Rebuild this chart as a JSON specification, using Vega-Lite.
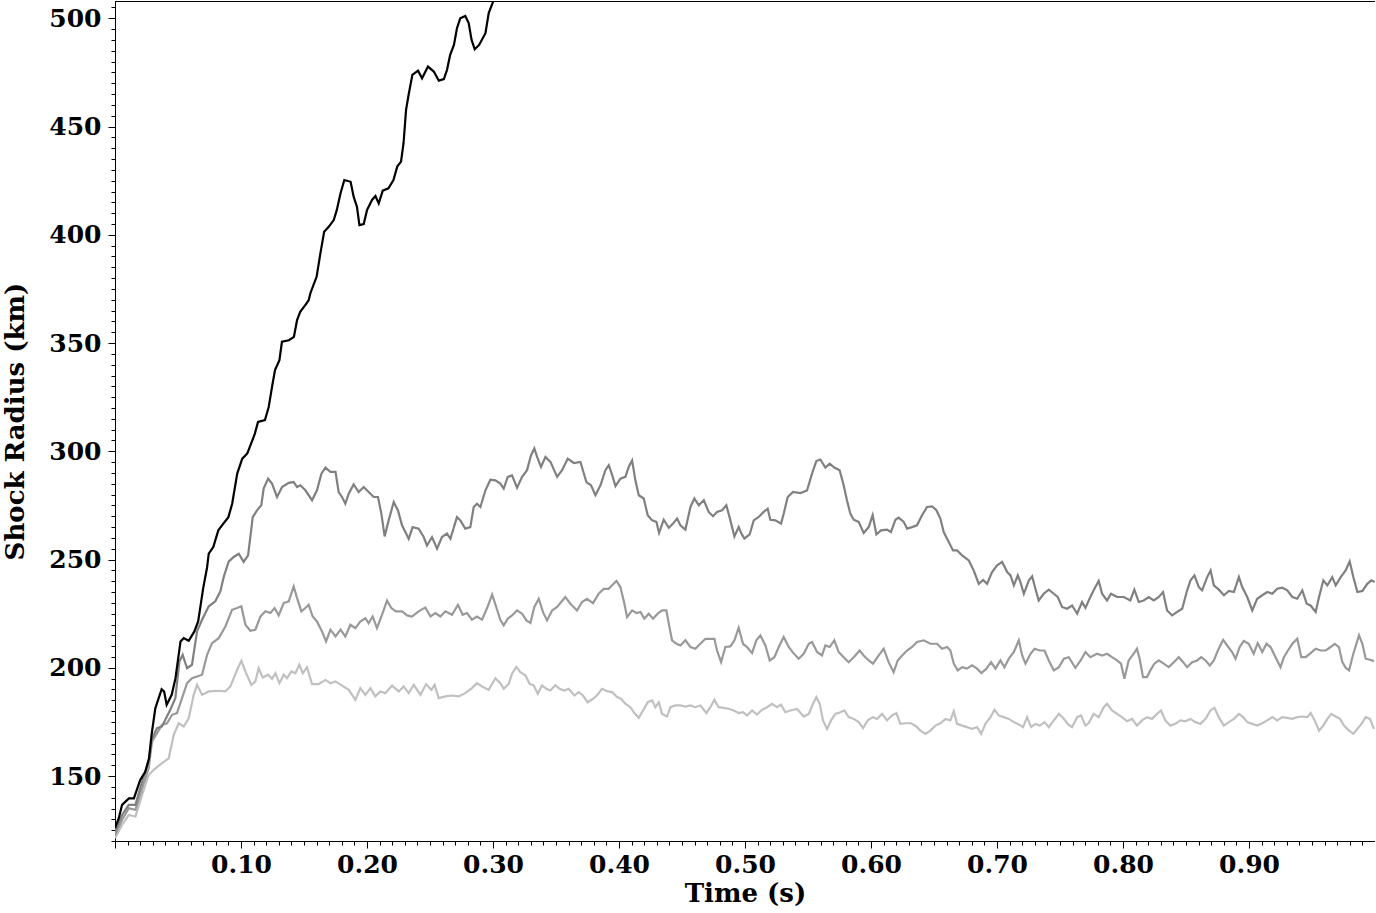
{
  "$schema": "https://vega.github.io/schema/vega-lite/v6.json",
  "width": 1260,
  "height": 840,
  "autosize": {"type": "none"},
  "padding": {"left": 115, "top": 1, "right": 0, "bottom": 72},
  "background": "white",
  "config": {
    "view": {"stroke": "black", "strokeWidth": 1},
    "axis": {
      "domainColor": "black",
      "domainWidth": 1,
      "tickColor": "black",
      "tickWidth": 1,
      "grid": false,
      "labelFont": "DejaVu Serif",
      "labelFontWeight": "bold",
      "labelFontSize": 25,
      "labelColor": "black",
      "titleFont": "DejaVu Serif",
      "titleFontWeight": "bold",
      "titleFontSize": 26,
      "titleColor": "black",
      "labelOverlap": false,
      "labelFlush": false
    }
  },
  "datasets": {
    "A": [
      {"t":0,"r":126},{"t":0.003,"r":130.5},{"t":0.0056,"r":136.7},{"t":0.011,"r":139.7},{"t":0.015,"r":139.7},{"t":0.02,"r":148.2},{"t":0.024,"r":152},{"t":0.027,"r":158.2},{"t":0.029,"r":169},{"t":0.032,"r":181.3},{"t":0.037,"r":190.1},{"t":0.039,"r":189},{"t":0.041,"r":182.9},{"t":0.045,"r":187.5},{"t":0.048,"r":195.2},{"t":0.052,"r":212.2},{"t":0.0545,"r":213.7},{"t":0.0585,"r":212.5},{"t":0.063,"r":216.8},{"t":0.066,"r":221.4},{"t":0.07,"r":236.8},{"t":0.073,"r":246.1},{"t":0.0744,"r":252.7},{"t":0.078,"r":255.8},{"t":0.082,"r":263.5},{"t":0.086,"r":266.6},{"t":0.09,"r":269.6},{"t":0.093,"r":275.8},{"t":0.097,"r":289.7},{"t":0.101,"r":296.6},{"t":0.105,"r":299},{"t":0.109,"r":305.1},{"t":0.111,"r":308.2},{"t":0.1135,"r":313.6},{"t":0.119,"r":314.4},{"t":0.122,"r":320.5},{"t":0.1246,"r":329.7},{"t":0.127,"r":337.5},{"t":0.1305,"r":342.1},{"t":0.1325,"r":350.6},{"t":0.138,"r":351.3},{"t":0.142,"r":352.9},{"t":0.1445,"r":360.6},{"t":0.147,"r":364.4},{"t":0.151,"r":367.5},{"t":0.1537,"r":369.8},{"t":0.155,"r":372.9},{"t":0.158,"r":377.6},{"t":0.16,"r":380.6},{"t":0.163,"r":391.4},{"t":0.166,"r":401.4},{"t":0.1696,"r":403.7},{"t":0.1736,"r":406.8},{"t":0.176,"r":411.4},{"t":0.179,"r":419.2},{"t":0.182,"r":425.3},{"t":0.187,"r":424.5},{"t":0.1894,"r":417.6},{"t":0.192,"r":413},{"t":0.194,"r":404.5},{"t":0.1974,"r":405},{"t":0.2,"r":411.4},{"t":0.204,"r":416.1},{"t":0.2067,"r":417.9},{"t":0.2093,"r":414.5},{"t":0.2125,"r":420.4},{"t":0.217,"r":421.5},{"t":0.221,"r":425.3},{"t":0.224,"r":431.5},{"t":0.227,"r":433.8},{"t":0.229,"r":442.3},{"t":0.231,"r":457.7},{"t":0.233,"r":464.6},{"t":0.236,"r":473.9},{"t":0.2405,"r":475.8},{"t":0.2437,"r":472.3},{"t":0.2484,"r":477.7},{"t":0.253,"r":475.4},{"t":0.257,"r":471.2},{"t":0.261,"r":471.9},{"t":0.2635,"r":476.2},{"t":0.266,"r":483.1},{"t":0.269,"r":487.7},{"t":0.2714,"r":495.4},{"t":0.274,"r":500},{"t":0.278,"r":501.1},{"t":0.2807,"r":497.8},{"t":0.283,"r":490},{"t":0.2855,"r":485.7},{"t":0.289,"r":487.7},{"t":0.294,"r":493.1},{"t":0.2966,"r":502.4},{"t":0.3006,"r":508.5},{"t":0.305,"r":518}
    ],
    "B": [
      {"t":0,"r":124.3},{"t":0.0056,"r":132},{"t":0.0109,"r":136.7},{"t":0.0162,"r":136.7},{"t":0.0215,"r":147.5},{"t":0.0267,"r":156.7},{"t":0.0294,"r":167.5},{"t":0.0334,"r":172.1},{"t":0.0373,"r":172.9},{"t":0.0405,"r":176.7},{"t":0.0439,"r":180.6},{"t":0.0479,"r":186},{"t":0.0511,"r":202.9},{"t":0.0537,"r":206},{"t":0.0572,"r":199.8},{"t":0.0611,"r":201.4},{"t":0.0651,"r":216.8},{"t":0.0691,"r":222.2},{"t":0.0744,"r":228.4},{"t":0.0796,"r":230.7},{"t":0.0836,"r":235.3},{"t":0.0863,"r":242},{"t":0.0902,"r":249},{"t":0.0942,"r":251.2},{"t":0.0982,"r":252.7},{"t":0.1021,"r":248.9},{"t":0.1056,"r":251.9},{"t":0.1074,"r":260.4},{"t":0.1093,"r":269.6},{"t":0.1127,"r":272.7},{"t":0.1161,"r":275.1},{"t":0.118,"r":282.8},{"t":0.1215,"r":287.4},{"t":0.1246,"r":285.1},{"t":0.1286,"r":278.9},{"t":0.1326,"r":283.5},{"t":0.1379,"r":285.4},{"t":0.1418,"r":285.8},{"t":0.1445,"r":283.5},{"t":0.1471,"r":284.3},{"t":0.1511,"r":282},{"t":0.1564,"r":277.4},{"t":0.1603,"r":282},{"t":0.1638,"r":289.7},{"t":0.167,"r":292.5},{"t":0.171,"r":290.5},{"t":0.175,"r":290.5},{"t":0.1775,"r":281.2},{"t":0.1802,"r":278.9},{"t":0.1828,"r":275.8},{"t":0.1855,"r":280.4},{"t":0.1894,"r":284.7},{"t":0.1934,"r":281.2},{"t":0.1974,"r":283.5},{"t":0.2013,"r":281.2},{"t":0.2053,"r":278.9},{"t":0.2087,"r":278.9},{"t":0.2114,"r":271.2},{"t":0.214,"r":260.7},{"t":0.2172,"r":268.1},{"t":0.2212,"r":276.6},{"t":0.2246,"r":272.7},{"t":0.2278,"r":265.8},{"t":0.2331,"r":259.6},{"t":0.2362,"r":265},{"t":0.241,"r":264.3},{"t":0.245,"r":260.4},{"t":0.2476,"r":256.5},{"t":0.2516,"r":260.4},{"t":0.2556,"r":255},{"t":0.2595,"r":260.4},{"t":0.2635,"r":262},{"t":0.2662,"r":259.6},{"t":0.2714,"r":269.6},{"t":0.2741,"r":268.1},{"t":0.278,"r":264.3},{"t":0.282,"r":265},{"t":0.2847,"r":274.3},{"t":0.2873,"r":275.8},{"t":0.29,"r":274.3},{"t":0.294,"r":282},{"t":0.2979,"r":286.9},{"t":0.3019,"r":286.6},{"t":0.3058,"r":285.1},{"t":0.3085,"r":282.8},{"t":0.3117,"r":288.2},{"t":0.3151,"r":288.9},{"t":0.3191,"r":283.2},{"t":0.3231,"r":288.2},{"t":0.327,"r":291.3},{"t":0.3302,"r":298.2},{"t":0.3328,"r":301.3},{"t":0.335,"r":297.4},{"t":0.3381,"r":292.8},{"t":0.3416,"r":297.4},{"t":0.3456,"r":295.1},{"t":0.3509,"r":288.2},{"t":0.3548,"r":291.3},{"t":0.3593,"r":296.6},{"t":0.3641,"r":294.6},{"t":0.3694,"r":295.1},{"t":0.3741,"r":285.8},{"t":0.3778,"r":284.3},{"t":0.3813,"r":279.7},{"t":0.3853,"r":284.3},{"t":0.3892,"r":291.3},{"t":0.3919,"r":293.6},{"t":0.3946,"r":289},{"t":0.3972,"r":283.9},{"t":0.4011,"r":287.4},{"t":0.4051,"r":288.2},{"t":0.4077,"r":292.8},{"t":0.4104,"r":295.8},{"t":0.413,"r":286.6},{"t":0.4157,"r":279.7},{"t":0.4196,"r":278.2},{"t":0.4228,"r":270.5},{"t":0.4263,"r":268.1},{"t":0.4297,"r":267.4},{"t":0.4318,"r":262.3},{"t":0.4355,"r":268.4},{"t":0.4395,"r":264.7},{"t":0.4429,"r":266.6},{"t":0.4461,"r":268.9},{"t":0.4487,"r":265.8},{"t":0.4527,"r":263.8},{"t":0.4567,"r":274.3},{"t":0.4598,"r":278.2},{"t":0.4633,"r":275.1},{"t":0.4673,"r":277.4},{"t":0.4712,"r":272},{"t":0.4746,"r":270},{"t":0.4778,"r":272},{"t":0.4818,"r":272.8},{"t":0.4852,"r":275.1},{"t":0.4884,"r":268.1},{"t":0.4916,"r":260.7},{"t":0.495,"r":265},{"t":0.4969,"r":262.3},{"t":0.4995,"r":259.7},{"t":0.5037,"r":261.6},{"t":0.5069,"r":268.1},{"t":0.5109,"r":269.7},{"t":0.5148,"r":272},{"t":0.518,"r":273.5},{"t":0.5201,"r":268.4},{"t":0.5241,"r":268.1},{"t":0.5286,"r":266.6},{"t":0.5307,"r":271.2},{"t":0.5339,"r":278.9},{"t":0.5381,"r":281.2},{"t":0.544,"r":280.7},{"t":0.5492,"r":281.9},{"t":0.5532,"r":289.7},{"t":0.5566,"r":295.5},{"t":0.5598,"r":296.2},{"t":0.5638,"r":292.5},{"t":0.5672,"r":294.3},{"t":0.5709,"r":292.5},{"t":0.5751,"r":291.3},{"t":0.5783,"r":284.3},{"t":0.5809,"r":277.4},{"t":0.5836,"r":271.2},{"t":0.5863,"r":268.4},{"t":0.5902,"r":267.4},{"t":0.5942,"r":262.3},{"t":0.5982,"r":265},{"t":0.6013,"r":270.5},{"t":0.6043,"r":261.6},{"t":0.6079,"r":263.5},{"t":0.6127,"r":263.8},{"t":0.6158,"r":262.7},{"t":0.6194,"r":268.4},{"t":0.622,"r":269.4},{"t":0.626,"r":267.4},{"t":0.6286,"r":264.3},{"t":0.6326,"r":265},{"t":0.6365,"r":265.8},{"t":0.6405,"r":270.5},{"t":0.6445,"r":274.3},{"t":0.6485,"r":274.6},{"t":0.6519,"r":272.8},{"t":0.6551,"r":268.9},{"t":0.6577,"r":262.7},{"t":0.6617,"r":258.1},{"t":0.6651,"r":254.2},{"t":0.6683,"r":254.2},{"t":0.6723,"r":251.9},{"t":0.6757,"r":250.4},{"t":0.6776,"r":249.6},{"t":0.6815,"r":245},{"t":0.6855,"r":238.8},{"t":0.689,"r":240.6},{"t":0.6921,"r":238.8},{"t":0.6961,"r":244.2},{"t":0.7001,"r":247.3},{"t":0.7041,"r":248.9},{"t":0.7081,"r":244.2},{"t":0.7107,"r":242.7},{"t":0.7134,"r":238.1},{"t":0.7165,"r":242.7},{"t":0.7186,"r":239.6},{"t":0.7213,"r":234.2},{"t":0.7253,"r":240.4},{"t":0.7279,"r":242.2},{"t":0.7305,"r":236.5},{"t":0.7331,"r":231.1},{"t":0.7371,"r":234.2},{"t":0.7411,"r":236.1},{"t":0.7451,"r":234.2},{"t":0.7482,"r":232.7},{"t":0.7516,"r":228.1},{"t":0.7556,"r":227.3},{"t":0.7596,"r":228.8},{"t":0.7636,"r":225},{"t":0.7675,"r":230.4},{"t":0.7702,"r":227.7},{"t":0.7728,"r":231.1},{"t":0.7767,"r":235.8},{"t":0.7807,"r":240.1},{"t":0.7834,"r":234.2},{"t":0.7873,"r":231.1},{"t":0.7905,"r":234.2},{"t":0.7953,"r":232.7},{"t":0.8006,"r":232.7},{"t":0.8058,"r":231.1},{"t":0.809,"r":236.1},{"t":0.8125,"r":230.4},{"t":0.8164,"r":231.1},{"t":0.8204,"r":232.7},{"t":0.8244,"r":231.1},{"t":0.8284,"r":232.7},{"t":0.8318,"r":235},{"t":0.835,"r":226.5},{"t":0.839,"r":224.2},{"t":0.843,"r":225.8},{"t":0.847,"r":227.3},{"t":0.8509,"r":235.8},{"t":0.8536,"r":240.4},{"t":0.8567,"r":242.7},{"t":0.8602,"r":237.3},{"t":0.8628,"r":235.8},{"t":0.8668,"r":241.9},{"t":0.8695,"r":245},{"t":0.8721,"r":238.1},{"t":0.8761,"r":236.1},{"t":0.8801,"r":233.5},{"t":0.884,"r":235.5},{"t":0.888,"r":235},{"t":0.892,"r":241.9},{"t":0.8946,"r":237.3},{"t":0.8986,"r":232.7},{"t":0.9026,"r":226.5},{"t":0.9065,"r":231.9},{"t":0.9105,"r":233.5},{"t":0.9145,"r":235},{"t":0.9185,"r":234.2},{"t":0.9224,"r":236.5},{"t":0.9264,"r":237},{"t":0.9304,"r":235.8},{"t":0.9344,"r":232.7},{"t":0.9383,"r":231.9},{"t":0.9423,"r":235.8},{"t":0.9458,"r":229.6},{"t":0.9489,"r":228.8},{"t":0.9529,"r":225.8},{"t":0.9556,"r":232.7},{"t":0.959,"r":240.4},{"t":0.9622,"r":238.1},{"t":0.9661,"r":241.9},{"t":0.9688,"r":238.1},{"t":0.9728,"r":241.9},{"t":0.9767,"r":245},{"t":0.9799,"r":249.1},{"t":0.9828,"r":241.9},{"t":0.986,"r":235},{"t":0.99,"r":235.5},{"t":0.9939,"r":238.8},{"t":0.9971,"r":240.4},{"t":0.9998,"r":239.6}
    ],
    "C": [
      {"t":0,"r":122.8},{"t":0.0056,"r":129.7},{"t":0.0109,"r":135.1},{"t":0.0162,"r":134.4},{"t":0.0215,"r":144.4},{"t":0.0267,"r":153.6},{"t":0.0294,"r":166},{"t":0.0334,"r":169.8},{"t":0.0373,"r":173.7},{"t":0.0413,"r":174.4},{"t":0.0453,"r":178.3},{"t":0.0492,"r":179.1},{"t":0.0532,"r":186},{"t":0.0572,"r":192.9},{"t":0.0611,"r":195.2},{"t":0.0651,"r":196},{"t":0.0691,"r":196.8},{"t":0.0731,"r":206},{"t":0.077,"r":211.4},{"t":0.0823,"r":213.7},{"t":0.0876,"r":219.1},{"t":0.0929,"r":226.8},{"t":0.0969,"r":227.6},{"t":0.1003,"r":228.4},{"t":0.1035,"r":219.9},{"t":0.1074,"r":217.1},{"t":0.1114,"r":217.6},{"t":0.1154,"r":223.7},{"t":0.1193,"r":226.1},{"t":0.1233,"r":225.3},{"t":0.1267,"r":227.6},{"t":0.1299,"r":224.2},{"t":0.1339,"r":229.9},{"t":0.1379,"r":230.7},{"t":0.1418,"r":237.6},{"t":0.1445,"r":232.2},{"t":0.1479,"r":226.1},{"t":0.1511,"r":227.6},{"t":0.1537,"r":229.1},{"t":0.1569,"r":223.7},{"t":0.1603,"r":221.4},{"t":0.1643,"r":216.8},{"t":0.1675,"r":212.2},{"t":0.171,"r":217.6},{"t":0.175,"r":214.5},{"t":0.179,"r":217.6},{"t":0.1828,"r":214.5},{"t":0.1868,"r":219.9},{"t":0.1908,"r":218.3},{"t":0.1947,"r":221.4},{"t":0.1987,"r":222.9},{"t":0.2013,"r":220.6},{"t":0.2045,"r":223.7},{"t":0.2079,"r":218.3},{"t":0.2119,"r":224.5},{"t":0.2159,"r":231},{"t":0.2193,"r":227.6},{"t":0.223,"r":226.1},{"t":0.2278,"r":226.1},{"t":0.2318,"r":224.2},{"t":0.2357,"r":223.7},{"t":0.241,"r":226.1},{"t":0.2463,"r":227.9},{"t":0.2503,"r":223.7},{"t":0.2543,"r":225.3},{"t":0.2582,"r":223.7},{"t":0.2622,"r":226.1},{"t":0.2675,"r":224.5},{"t":0.2722,"r":229.1},{"t":0.2759,"r":224.5},{"t":0.2794,"r":225.3},{"t":0.2833,"r":222.2},{"t":0.2873,"r":223.7},{"t":0.2913,"r":222.2},{"t":0.2953,"r":227.6},{"t":0.2993,"r":233.8},{"t":0.3024,"r":228.4},{"t":0.3058,"r":222.2},{"t":0.3085,"r":219.6},{"t":0.3117,"r":222.7},{"t":0.3151,"r":224.2},{"t":0.3191,"r":226.5},{"t":0.3231,"r":225},{"t":0.3265,"r":221.9},{"t":0.3297,"r":220.7},{"t":0.3328,"r":228.1},{"t":0.3363,"r":231.9},{"t":0.3397,"r":225.7},{"t":0.3429,"r":221.9},{"t":0.3469,"r":226.5},{"t":0.3509,"r":228.1},{"t":0.3541,"r":230.4},{"t":0.3574,"r":232.7},{"t":0.3614,"r":229.6},{"t":0.3667,"r":226.5},{"t":0.3706,"r":230.4},{"t":0.3746,"r":231.9},{"t":0.3794,"r":229.9},{"t":0.3839,"r":234.2},{"t":0.3879,"r":236.5},{"t":0.3918,"r":236.5},{"t":0.3945,"r":238.1},{"t":0.398,"r":240.1},{"t":0.4011,"r":237.3},{"t":0.4043,"r":229.6},{"t":0.4064,"r":223.4},{"t":0.4104,"r":226.5},{"t":0.4138,"r":225.3},{"t":0.417,"r":225.8},{"t":0.4201,"r":222.7},{"t":0.4236,"r":225},{"t":0.427,"r":222.7},{"t":0.4307,"r":225},{"t":0.4342,"r":226.5},{"t":0.4376,"r":226.5},{"t":0.4395,"r":220.4},{"t":0.4421,"r":212.7},{"t":0.4456,"r":211.1},{"t":0.4487,"r":210.3},{"t":0.4527,"r":212.7},{"t":0.4567,"r":209.6},{"t":0.4606,"r":208.8},{"t":0.4646,"r":211.1},{"t":0.4686,"r":213.4},{"t":0.4725,"r":213.4},{"t":0.4757,"r":213.4},{"t":0.4778,"r":208},{"t":0.481,"r":202.6},{"t":0.4844,"r":209.6},{"t":0.4884,"r":209.9},{"t":0.4916,"r":212.7},{"t":0.495,"r":218.5},{"t":0.4984,"r":211.1},{"t":0.5016,"r":209.6},{"t":0.5056,"r":206.8},{"t":0.509,"r":212.7},{"t":0.5122,"r":214.9},{"t":0.5162,"r":210.3},{"t":0.5196,"r":203.4},{"t":0.5233,"r":204.9},{"t":0.5268,"r":209.6},{"t":0.5307,"r":214.2},{"t":0.5347,"r":209.6},{"t":0.5381,"r":207},{"t":0.5426,"r":204.2},{"t":0.5466,"r":206.5},{"t":0.5506,"r":211.1},{"t":0.5532,"r":211.9},{"t":0.5572,"r":207.3},{"t":0.5611,"r":205.7},{"t":0.5638,"r":210.3},{"t":0.5672,"r":209.6},{"t":0.5709,"r":212.7},{"t":0.5743,"r":207.3},{"t":0.5783,"r":204.9},{"t":0.5823,"r":202.6},{"t":0.5863,"r":204.9},{"t":0.591,"r":208},{"t":0.5942,"r":205.7},{"t":0.5982,"r":203.4},{"t":0.6016,"r":201.9},{"t":0.6061,"r":205.7},{"t":0.6101,"r":208.8},{"t":0.614,"r":202.6},{"t":0.618,"r":198},{"t":0.6212,"r":203.4},{"t":0.6247,"r":205.7},{"t":0.6286,"r":208},{"t":0.6326,"r":209.6},{"t":0.6365,"r":211.9},{"t":0.6418,"r":212.7},{"t":0.6471,"r":211.1},{"t":0.6524,"r":211.1},{"t":0.6564,"r":208.8},{"t":0.6604,"r":209.6},{"t":0.663,"r":208},{"t":0.6657,"r":201.9},{"t":0.6688,"r":198.8},{"t":0.6723,"r":200.3},{"t":0.6762,"r":199.6},{"t":0.6802,"r":201.1},{"t":0.6842,"r":199.6},{"t":0.6876,"r":197.6},{"t":0.6916,"r":199.6},{"t":0.6953,"r":202.6},{"t":0.6988,"r":199.6},{"t":0.7027,"r":203.4},{"t":0.7059,"r":200.3},{"t":0.7094,"r":204.2},{"t":0.7134,"r":207.3},{"t":0.7173,"r":212.7},{"t":0.72,"r":205.7},{"t":0.7226,"r":201.9},{"t":0.7266,"r":206.5},{"t":0.7298,"r":208.8},{"t":0.734,"r":208},{"t":0.7377,"r":208},{"t":0.7411,"r":203.4},{"t":0.7451,"r":198.8},{"t":0.7491,"r":200.3},{"t":0.7531,"r":204.2},{"t":0.757,"r":204.9},{"t":0.7622,"r":200},{"t":0.7664,"r":203.4},{"t":0.7702,"r":207.3},{"t":0.7741,"r":204.9},{"t":0.7794,"r":206.5},{"t":0.7834,"r":205.7},{"t":0.7873,"r":206.5},{"t":0.7913,"r":204.9},{"t":0.7953,"r":203.4},{"t":0.7984,"r":201.9},{"t":0.8011,"r":194.9},{"t":0.8045,"r":203.4},{"t":0.8085,"r":206.5},{"t":0.8111,"r":208.8},{"t":0.8132,"r":204.2},{"t":0.8159,"r":195.7},{"t":0.819,"r":195.7},{"t":0.8217,"r":198.8},{"t":0.8249,"r":201.9},{"t":0.8284,"r":203.4},{"t":0.8323,"r":201.9},{"t":0.8363,"r":200.3},{"t":0.8403,"r":202.6},{"t":0.8443,"r":204.9},{"t":0.8477,"r":202.6},{"t":0.8509,"r":200.3},{"t":0.8549,"r":202.6},{"t":0.8589,"r":203.4},{"t":0.8621,"r":204.9},{"t":0.8655,"r":203.4},{"t":0.8689,"r":201.1},{"t":0.8721,"r":203.4},{"t":0.8753,"r":208},{"t":0.8795,"r":212.9},{"t":0.8827,"r":210.3},{"t":0.8866,"r":207.3},{"t":0.8893,"r":204.2},{"t":0.8926,"r":209.6},{"t":0.8958,"r":212.4},{"t":0.8998,"r":211.1},{"t":0.9037,"r":206.5},{"t":0.9069,"r":211.4},{"t":0.9105,"r":207.3},{"t":0.9139,"r":211.1},{"t":0.9171,"r":209.6},{"t":0.9211,"r":204.9},{"t":0.925,"r":200.3},{"t":0.9277,"r":204.9},{"t":0.9309,"r":208},{"t":0.9344,"r":211.1},{"t":0.9383,"r":213.4},{"t":0.9415,"r":204.9},{"t":0.945,"r":204.9},{"t":0.9489,"r":206.8},{"t":0.9529,"r":208.8},{"t":0.9569,"r":208},{"t":0.9609,"r":208},{"t":0.9648,"r":209.6},{"t":0.968,"r":211.1},{"t":0.9714,"r":209.6},{"t":0.9741,"r":202.6},{"t":0.9767,"r":200},{"t":0.9794,"r":198.8},{"t":0.9828,"r":206.5},{"t":0.9873,"r":215},{"t":0.99,"r":211.1},{"t":0.9926,"r":204.2},{"t":0.996,"r":203.7},{"t":0.9992,"r":203.1}
    ],
    "D": [
      {"t":0,"r":121.3},{"t":0.0056,"r":127.4},{"t":0.0109,"r":132},{"t":0.0162,"r":131.3},{"t":0.0215,"r":141.3},{"t":0.0267,"r":150.5},{"t":0.0307,"r":152.9},{"t":0.0373,"r":156},{"t":0.0426,"r":158.2},{"t":0.0466,"r":169},{"t":0.0506,"r":174.4},{"t":0.0545,"r":172.9},{"t":0.0585,"r":176.7},{"t":0.0625,"r":187.5},{"t":0.0651,"r":192.1},{"t":0.0691,"r":187.5},{"t":0.0744,"r":189.1},{"t":0.0823,"r":189.4},{"t":0.0876,"r":189.1},{"t":0.0916,"r":191.4},{"t":0.0969,"r":199.1},{"t":0.1003,"r":203.2},{"t":0.1035,"r":198.3},{"t":0.1082,"r":192.1},{"t":0.1114,"r":193.7},{"t":0.114,"r":199.8},{"t":0.1172,"r":195.5},{"t":0.1215,"r":196.8},{"t":0.1246,"r":194.9},{"t":0.1273,"r":197.5},{"t":0.1305,"r":192.9},{"t":0.1339,"r":196.8},{"t":0.1365,"r":195.2},{"t":0.14,"r":198.3},{"t":0.1432,"r":197.5},{"t":0.1463,"r":201.4},{"t":0.149,"r":197.5},{"t":0.1524,"r":200.2},{"t":0.1564,"r":192.5},{"t":0.1617,"r":192.5},{"t":0.167,"r":194.4},{"t":0.171,"r":192.9},{"t":0.175,"r":193.7},{"t":0.1802,"r":191.8},{"t":0.1855,"r":189.8},{"t":0.1908,"r":185.2},{"t":0.1947,"r":190.6},{"t":0.1987,"r":187.5},{"t":0.2027,"r":190.6},{"t":0.2066,"r":186.8},{"t":0.2106,"r":189.1},{"t":0.2146,"r":188.3},{"t":0.2199,"r":191.8},{"t":0.2252,"r":189.1},{"t":0.2291,"r":191.4},{"t":0.2331,"r":188.3},{"t":0.2371,"r":192.1},{"t":0.2424,"r":187.5},{"t":0.2469,"r":192.5},{"t":0.2511,"r":189.8},{"t":0.2537,"r":192.1},{"t":0.2569,"r":186},{"t":0.2622,"r":186.8},{"t":0.2675,"r":187.2},{"t":0.2728,"r":186.8},{"t":0.278,"r":188.3},{"t":0.2833,"r":190.6},{"t":0.2873,"r":192.9},{"t":0.2913,"r":191.4},{"t":0.2966,"r":189.8},{"t":0.3019,"r":195.2},{"t":0.3058,"r":192.9},{"t":0.3085,"r":190.3},{"t":0.3125,"r":192.6},{"t":0.3151,"r":197.3},{"t":0.3185,"r":200.4},{"t":0.3217,"r":198},{"t":0.3257,"r":196.5},{"t":0.3291,"r":192.6},{"t":0.3323,"r":191.9},{"t":0.3355,"r":188},{"t":0.3389,"r":191.9},{"t":0.3423,"r":190.3},{"t":0.3455,"r":189.5},{"t":0.3495,"r":191.9},{"t":0.3529,"r":190.3},{"t":0.3566,"r":189.5},{"t":0.3601,"r":190.3},{"t":0.3646,"r":187.2},{"t":0.368,"r":188.8},{"t":0.3714,"r":187.2},{"t":0.3751,"r":184.1},{"t":0.3794,"r":185.7},{"t":0.3825,"r":187.2},{"t":0.3865,"r":190.3},{"t":0.3905,"r":189.2},{"t":0.3945,"r":188.8},{"t":0.3985,"r":186.5},{"t":0.4016,"r":185.7},{"t":0.405,"r":183.4},{"t":0.409,"r":181.8},{"t":0.4122,"r":179.1},{"t":0.4157,"r":176.9},{"t":0.4191,"r":180.3},{"t":0.4228,"r":184.1},{"t":0.4263,"r":184.9},{"t":0.4289,"r":181.8},{"t":0.4316,"r":184.1},{"t":0.4342,"r":178.7},{"t":0.4381,"r":177.5},{"t":0.4408,"r":181.8},{"t":0.4447,"r":182.6},{"t":0.4487,"r":182.6},{"t":0.4527,"r":182.1},{"t":0.4567,"r":182.6},{"t":0.4606,"r":181.8},{"t":0.4646,"r":182.6},{"t":0.4694,"r":179.1},{"t":0.4725,"r":181.8},{"t":0.4757,"r":185.2},{"t":0.4791,"r":181.8},{"t":0.4831,"r":181.5},{"t":0.4871,"r":181.1},{"t":0.491,"r":180.3},{"t":0.495,"r":179.1},{"t":0.4984,"r":179.5},{"t":0.5016,"r":178},{"t":0.5056,"r":180.3},{"t":0.5095,"r":178.4},{"t":0.5135,"r":180.6},{"t":0.5175,"r":181.8},{"t":0.5215,"r":183.4},{"t":0.5254,"r":181.8},{"t":0.5286,"r":183},{"t":0.532,"r":179.5},{"t":0.536,"r":180.3},{"t":0.5413,"r":181},{"t":0.5466,"r":177.5},{"t":0.5506,"r":178.7},{"t":0.554,"r":183.4},{"t":0.5566,"r":186.5},{"t":0.5593,"r":183.4},{"t":0.5619,"r":175.7},{"t":0.5651,"r":171.8},{"t":0.5683,"r":175.7},{"t":0.5717,"r":178.7},{"t":0.5757,"r":179.5},{"t":0.5789,"r":180.3},{"t":0.5823,"r":177.2},{"t":0.5863,"r":176.4},{"t":0.5902,"r":174.9},{"t":0.5937,"r":172.2},{"t":0.5974,"r":175.7},{"t":0.6016,"r":177.2},{"t":0.6048,"r":176.4},{"t":0.6088,"r":178.7},{"t":0.6127,"r":175.7},{"t":0.6167,"r":178},{"t":0.6202,"r":179.1},{"t":0.6233,"r":174.1},{"t":0.6273,"r":174.4},{"t":0.6318,"r":174.4},{"t":0.636,"r":172.9},{"t":0.6392,"r":171},{"t":0.6432,"r":169.5},{"t":0.6471,"r":171},{"t":0.6511,"r":173.3},{"t":0.6551,"r":174.4},{"t":0.6591,"r":176.4},{"t":0.663,"r":175.7},{"t":0.6657,"r":180},{"t":0.6683,"r":174.1},{"t":0.6723,"r":173.3},{"t":0.6762,"r":172.6},{"t":0.6802,"r":171.8},{"t":0.6842,"r":172.6},{"t":0.6874,"r":169.5},{"t":0.6908,"r":174.1},{"t":0.6948,"r":177.2},{"t":0.698,"r":180.6},{"t":0.7014,"r":178},{"t":0.7054,"r":177.2},{"t":0.7094,"r":176.4},{"t":0.7134,"r":174.9},{"t":0.7165,"r":174.1},{"t":0.7207,"r":172.6},{"t":0.7239,"r":177.2},{"t":0.7271,"r":172.6},{"t":0.7305,"r":174.1},{"t":0.734,"r":173.3},{"t":0.7377,"r":174.9},{"t":0.7411,"r":172.6},{"t":0.7451,"r":175.7},{"t":0.7491,"r":178.7},{"t":0.7524,"r":176.9},{"t":0.7561,"r":174.1},{"t":0.7596,"r":172.6},{"t":0.7636,"r":177.2},{"t":0.7667,"r":178},{"t":0.7702,"r":173.3},{"t":0.7728,"r":174.5},{"t":0.7767,"r":178.7},{"t":0.7807,"r":177.2},{"t":0.7847,"r":181.8},{"t":0.7873,"r":183.4},{"t":0.7913,"r":180.3},{"t":0.7953,"r":178.7},{"t":0.7992,"r":177.2},{"t":0.8032,"r":175.3},{"t":0.8072,"r":176.4},{"t":0.8111,"r":173.3},{"t":0.8151,"r":175.7},{"t":0.819,"r":177.2},{"t":0.823,"r":176.4},{"t":0.827,"r":178.7},{"t":0.8302,"r":180.3},{"t":0.8336,"r":175.7},{"t":0.8376,"r":173.3},{"t":0.8416,"r":174.1},{"t":0.8456,"r":175.7},{"t":0.8495,"r":175.3},{"t":0.8535,"r":176.4},{"t":0.8575,"r":174.9},{"t":0.8615,"r":174.1},{"t":0.8655,"r":176.4},{"t":0.8694,"r":180.3},{"t":0.8726,"r":181.5},{"t":0.876,"r":177.2},{"t":0.88,"r":173.3},{"t":0.884,"r":174.9},{"t":0.888,"r":176.4},{"t":0.892,"r":178.7},{"t":0.8954,"r":177.2},{"t":0.8986,"r":174.9},{"t":0.9026,"r":174.1},{"t":0.9065,"r":173.3},{"t":0.9105,"r":174.4},{"t":0.9145,"r":175.7},{"t":0.9185,"r":177.2},{"t":0.9224,"r":175.7},{"t":0.9264,"r":177.2},{"t":0.9304,"r":176.9},{"t":0.9344,"r":176.4},{"t":0.9383,"r":177.2},{"t":0.9423,"r":177.5},{"t":0.9463,"r":177.2},{"t":0.9489,"r":179.1},{"t":0.9521,"r":175.7},{"t":0.9556,"r":171},{"t":0.959,"r":173.3},{"t":0.9622,"r":176.4},{"t":0.9653,"r":178.7},{"t":0.9688,"r":177.5},{"t":0.9722,"r":176.4},{"t":0.9754,"r":173.3},{"t":0.9794,"r":171},{"t":0.9828,"r":169.5},{"t":0.986,"r":171.8},{"t":0.9892,"r":174.1},{"t":0.9926,"r":177.2},{"t":0.996,"r":176.4},{"t":0.9992,"r":171.8}
    ]
  },
  "encoding": {
    "x": {
      "field": "t",
      "type": "quantitative",
      "scale": {"domain": [0, 1], "nice": false, "zero": false},
      "axis": {
        "title": "Time (s)",
        "values": [0,0.01,0.02,0.03,0.04,0.05,0.06,0.07,0.08,0.09,0.1,0.11,0.12,0.13,0.14,0.15,0.16,0.17,0.18,0.19,0.2,0.21,0.22,0.23,0.24,0.25,0.26,0.27,0.28,0.29,0.3,0.31,0.32,0.33,0.34,0.35,0.36,0.37,0.38,0.39,0.4,0.41,0.42,0.43,0.44,0.45,0.46,0.47,0.48,0.49,0.5,0.51,0.52,0.53,0.54,0.55,0.56,0.57,0.58,0.59,0.6,0.61,0.62,0.63,0.64,0.65,0.66,0.67,0.68,0.69,0.7,0.71,0.72,0.73,0.74,0.75,0.76,0.77,0.78,0.79,0.8,0.81,0.82,0.83,0.84,0.85,0.86,0.87,0.88,0.89,0.9,0.91,0.92,0.93,0.94,0.95,0.96,0.97,0.98,0.99],
        "labelExpr": "(abs(datum.value*10 - round(datum.value*10)) < 1e-6 && datum.value > 0.05) ? format(datum.value, '.2f') : ''",
        "tickSize": {"condition": {"test": "abs(datum.value*10 - round(datum.value*10)) < 1e-6", "value": 7}, "value": 4},
        "labelPadding": 4,
        "titlePadding": 3
      }
    },
    "y": {
      "field": "r",
      "type": "quantitative",
      "scale": {"domain": [120, 508], "nice": false, "zero": false},
      "axis": {
        "title": "Shock Radius (km)",
        "values": [120,125,130,135,140,145,150,155,160,165,170,175,180,185,190,195,200,205,210,215,220,225,230,235,240,245,250,255,260,265,270,275,280,285,290,295,300,305,310,315,320,325,330,335,340,345,350,355,360,365,370,375,380,385,390,395,400,405,410,415,420,425,430,435,440,445,450,455,460,465,470,475,480,485,490,495,500,505],
        "labelExpr": "datum.value % 50 === 0 ? format(datum.value, 'd') : ''",
        "tickSize": {"condition": {"test": "datum.value % 50 === 0", "value": 7}, "value": 4},
        "labelPadding": 7,
        "titlePadding": 20
      }
    }
  },
  "layer": [
    {"data": {"name": "D"}, "mark": {"type": "line", "color": "#c0c0c0", "strokeWidth": 2.2, "clip": true}},
    {"data": {"name": "C"}, "mark": {"type": "line", "color": "#999999", "strokeWidth": 2.2, "clip": true}},
    {"data": {"name": "B"}, "mark": {"type": "line", "color": "#808080", "strokeWidth": 2.2, "clip": true}},
    {"data": {"name": "A"}, "mark": {"type": "line", "color": "#000000", "strokeWidth": 2.2, "clip": true}}
  ]
}
